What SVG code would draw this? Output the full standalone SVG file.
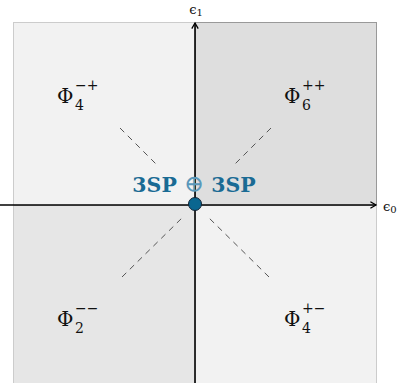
<svg xmlns="http://www.w3.org/2000/svg" width="400" height="383" viewBox="0 0 400 383">
<defs>
<style>
text{font-family:"DejaVu Serif","Liberation Serif",serif;fill:#111}
.phi{font-size:20px}
.sub{font-size:14px}
.dash{stroke:#555;stroke-width:1;stroke-dasharray:6,5;fill:none}
.axis{stroke:#000;stroke-width:1.6;fill:none}
</style>
<marker id="ah" viewBox="0 0 10 10" refX="8" refY="5" markerWidth="8" markerHeight="8" markerUnits="userSpaceOnUse" orient="auto">
<path d="M1,1 L8,5 L1,9" fill="none" stroke="#000" stroke-width="1.6"/>
</marker>
</defs>
<g id="quad-tl"><rect x="13.5" y="22.5" width="182" height="183" fill="#f2f2f2" stroke="#cccccc"/></g>
<g id="quad-tr"><rect x="195.5" y="22.5" width="181" height="183" fill="#dedede" stroke="#999999"/></g>
<g id="quad-bl"><rect x="13.5" y="205.5" width="182" height="180" fill="#e6e6e6" stroke="#cccccc"/></g>
<g id="quad-br"><rect x="195.5" y="205.5" width="181" height="180" fill="#f2f2f2" stroke="#cccccc"/></g>
<g id="connectors">
<line class="dash" x1="120" y1="128" x2="158" y2="166"/>
<line class="dash" x1="271" y1="128" x2="233" y2="166"/>
<line class="dash" x1="122" y1="277" x2="184" y2="216"/>
<line class="dash" x1="269" y1="277" x2="207" y2="216"/>
<line class="axis" x1="195" y1="383" x2="195" y2="23" marker-end="url(#ah)"/>
<line class="axis" x1="0" y1="205" x2="376" y2="205" marker-end="url(#ah)"/>
</g>
<g id="axis-labels">
<text x="196" y="14" font-size="13" text-anchor="middle">ϵ<tspan font-size="10" dy="2">1</tspan></text>
<text x="383" y="211" font-size="13">ϵ<tspan font-size="10" dy="2">0</tspan></text>
</g>
<g id="phi-tl"><text x="57" y="103" class="phi">Φ</text><text x="75" y="110" class="sub">4</text><text x="75" y="90" class="sub">−+</text></g>
<g id="phi-tr"><text x="284" y="103" class="phi">Φ</text><text x="302" y="110" class="sub">6</text><text x="302" y="90" class="sub">++</text></g>
<g id="phi-bl"><text x="57" y="326" class="phi">Φ</text><text x="75" y="333" class="sub">2</text><text x="75" y="313" class="sub">−−</text></g>
<g id="phi-br"><text x="284" y="326" class="phi">Φ</text><text x="302" y="333" class="sub">4</text><text x="302" y="313" class="sub">+−</text></g>
<g id="center">
<circle cx="195" cy="204" r="6.5" fill="#0a6690" stroke="#123" stroke-width="1"/>
<text x="194" y="192" text-anchor="middle" font-weight="bold" font-size="20.5" style="fill:#1a6b94">3SP <tspan font-weight="normal" font-size="24" style="fill:#5a98ba">⊕</tspan> 3SP</text>
</g>
</svg>
